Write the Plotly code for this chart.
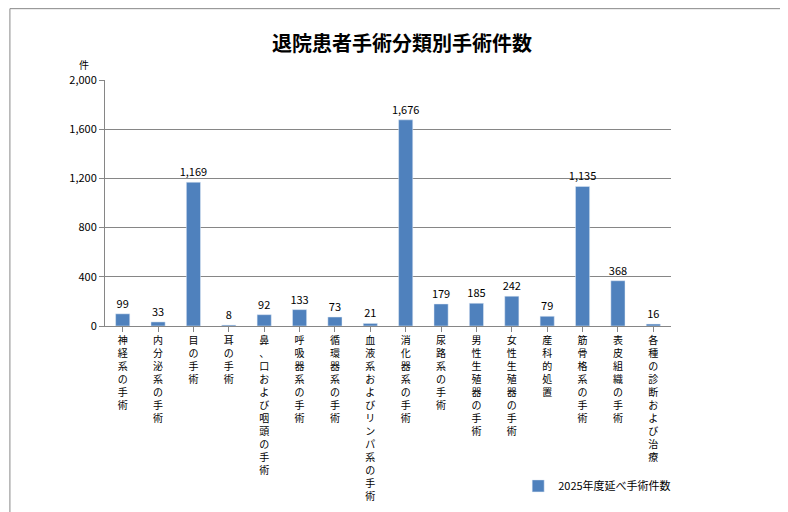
import plotly.graph_objects as go

categories = ["神経系の手術", "内分泌系の手術", "目の手術", "耳の手術", "鼻、口 および咽頭の手術",
              "呼吸器系の手術", "循環器系の手術", "血液系およびリンパ系の手術", "消化器系の手術",
              "尿路系の手術", "男性生殖器の手術", "女性生殖器の手術", "産科的処置",
              "筋骨格系の手術", "表皮組織の手術", "各種の診断および治療"]
counts = [99, 33, 1169, 8, 92, 133, 73, 21, 1676, 179, 185, 242, 79, 1135, 368, 16]
series_name = "2025年度延べ手術件数"

# vertical labels: one character per line
vlabels = ["<br>".join(ch for ch in c if ch != " ") for c in categories]

font = "Noto Sans CJK JP"
fig = go.Figure(go.Bar(
    x=vlabels, y=counts, name=series_name, marker_color="#4F81BD",
    text=[f"{v:,}" for v in counts], textposition="outside", constraintext="none",
    textfont=dict(size=11, color="black"), cliponaxis=False, showlegend=True,
))
fig.update_layout(
    width=788, height=512, font=dict(family=font, size=12, color="black"),
    paper_bgcolor="white", plot_bgcolor="white",
    margin=dict(l=97, r=125, t=72, b=194, autoexpand=False),
    title=dict(text="<b>退院患者手術分類別手術件数</b>", x=0.5, xanchor="center",
               y=0.93, yanchor="middle", font=dict(size=20)),
    bargap=0.6,
    legend=dict(x=0.73, y=-0.65, xanchor="left", yanchor="middle",
                font=dict(size=11), bgcolor="rgba(0,0,0,0)"),
    shapes=[dict(type="rect", xref="paper", yref="paper",
                 x0=-0.168, x1=1.215, y0=-0.78, y1=1.29,
                 line=dict(color="#888888", width=1))],
    annotations=[dict(text="件", xref="paper", yref="paper", x=-0.05, y=1.1,
                      showarrow=False, font=dict(size=10))],
)
fig.update_xaxes(showline=True, linecolor="#868686", ticks="outside", tickcolor="#868686",
                 tickangle=0, tickfont=dict(size=10), automargin=False)
fig.update_yaxes(range=[0, 2000], dtick=400, tickformat=",", showgrid=True,
                 gridcolor="#868686", showline=True, linecolor="#868686", automargin=False,
                 ticks="outside", tickcolor="#868686", tickfont=dict(size=11), zeroline=False)
fig.write_html("out.html")
